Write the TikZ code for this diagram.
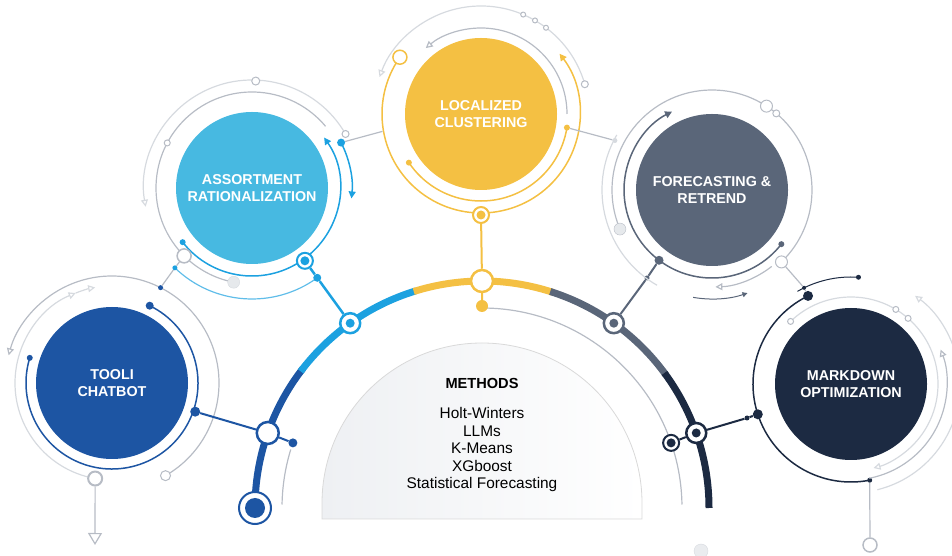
\documentclass[tikz,border=0pt]{standalone}
\usepackage{fontspec}
\setmainfont{Liberation Sans}
\usetikzlibrary{arrows.meta}

\definecolor{chatblue}{HTML}{1D55A3}
\definecolor{sortblue}{HTML}{47B9E1}
\definecolor{skyblue}{HTML}{1CA1E0}
\definecolor{clusteryellow}{HTML}{F4C043}
\definecolor{trendslate}{HTML}{5A6679}
\definecolor{marknavy}{HTML}{1C2A42}
\definecolor{ringgray}{HTML}{B7BCC5}
\definecolor{ringlight}{HTML}{D6DADF}
\definecolor{panelgray}{HTML}{EEF0F3}

\newcommand{\ringarc}[5][]{%
  \draw[#1] ([shift={(#4:#3)}]#2.center) arc[start angle=#4, end angle=#5, radius=#3];}

\tikzset{
  topic/.style={circle, fill=#1, minimum size=152pt, inner sep=0pt, text=white, align=center,
    font=\fontsize{14.3pt}{17pt}\selectfont\bfseries},
  spot/.style={circle, fill=#1, inner sep=0pt, minimum size=6pt},
  bigspot/.style={circle, fill=#1, inner sep=0pt, minimum size=10pt},
  hollow/.style={circle, fill=white, draw=#1, line width=1pt, inner sep=0pt, minimum size=12pt},
  hub/.style={circle, fill=white, draw=#1, line width=2.5pt, inner sep=0pt, minimum size=20pt},
  hubdot/.style={hub=#1, path picture={\fill[#1] (path picture bounding box.center) circle[radius=4.5pt];}},
  graywire/.style={draw=ringgray, line width=1.2pt},
  lightwire/.style={draw=ringlight, line width=1.2pt},
  opentip/.style={-{Triangle[open, length=7pt, width=7pt]}},
  solidtip/.style={-{Triangle[length=7pt, width=7pt]}},
}

\begin{document}
\begin{tikzpicture}[x=1pt, y=1pt]
\useasboundingbox (0,0) rectangle (952,556);

\coordinate (m) at (482,48);
\ringarc[line width=7pt, chatblue]{m}{227}{180}{142}
\ringarc[line width=7pt, skyblue]{m}{227}{143}{107}
\ringarc[line width=7pt, clusteryellow]{m}{227}{107.5}{72}
\ringarc[line width=7pt, trendslate]{m}{227}{72.5}{36}
\ringarc[line width=7pt, marknavy]{m}{227}{36.5}{0}
\ringarc[graywire]{m}{200}{90}{1}
\ringarc[graywire]{m}{200}{163}{179}

\draw[draw=black!15, line width=0.8pt, left color=panelgray, right color=white]
  (322,37) -- (322,53) arc[start angle=180, end angle=0, radius=160] -- (642,37) -- cycle;
\node[font=\fontsize{14.6pt}{17pt}\selectfont\bfseries] (methods) at (482,173) {METHODS};
\node[font=\fontsize{15.4pt}{17.5pt}\selectfont, align=center, anchor=north] (methodlist) at (482,152)
  {Holt-Winters\\LLMs\\K-Means\\XGboost\\Statistical Forecasting};

\node[topic=chatblue] (c1) at (112,173) {TOOLI\\CHATBOT};
\node[topic=sortblue] (c2) at (252,368) {ASSORTMENT\\RATIONALIZATION};
\node[topic=clusteryellow] (c3) at (481,442) {LOCALIZED\\CLUSTERING};
\node[topic=trendslate] (c4) at (712,366) {FORECASTING \&\\RETREND};
\node[topic=marknavy] (c5) at (851,172) {MARKDOWN\\OPTIMIZATION};

\node[hub=chatblue, minimum size=22pt] (j1) at ([shift={(160.7:227)}]m) {};
\node[hubdot=skyblue] (j2) at ([shift={(125.5:227)}]m) {};
\node[hub=clusteryellow, minimum size=22pt] (j3) at ([shift={(90:227)}]m) {};
\node[hubdot=trendslate] (j4) at ([shift={(54.5:227)}]m) {};
\node[hubdot=marknavy] (j5) at ([shift={(19.3:227)}]m) {};
\node[hub=chatblue, minimum size=32pt, line width=2pt] (jb) at ([shift={(180:227)}]m) {};
\fill[chatblue] (jb) circle[radius=10];

\ringarc[chatblue, line width=1.5pt]{c1}{86}{64}{-197}
\node[spot=chatblue, minimum size=8pt] (c1a) at ([shift={(64:86)}]c1.center) {};
\node[spot=chatblue] (c1b) at ([shift={(163:86)}]c1.center) {};
\ringarc[graywire, opentip]{c1}{107}{-60}{165}
\node[hollow=ringgray, minimum size=10pt] (c1o) at ([shift={(-60:107)}]c1.center) {};
\node[spot=chatblue, minimum size=5pt] (c1t) at ([shift={(63:107)}]c1.center) {};
\ringarc[lightwire, opentip]{c1}{97}{260}{112}
\ringarc[lightwire, opentip]{c1}{97}{112}{100}
\node[hollow=ringgray, line width=2pt, minimum size=14pt] (c1g) at ([shift={(-100:97)}]c1.center) {};
\coordinate (c1end) at (95,11);
\draw[graywire, -{Triangle[open, length=12pt, width=14pt]}] (c1g) -- (c1end);
\node[bigspot=chatblue] (d1) at ([shift={(-19:88)}]c1.center) {};
\node[spot=chatblue, minimum size=9pt] (d1b) at ([shift={(161:200)}]m) {};
\draw[chatblue, line width=2pt] (d1) -- (j1) -- (d1b);

\ringarc[skyblue, line width=1.5pt, solidtip]{c2}{88}{218}{395}
\node[spot=skyblue] (c2a) at ([shift={(218:88)}]c2.center) {};
\ringarc[skyblue, line width=1.5pt, solidtip]{c2}{100}{27}{-6}
\node[bigspot=skyblue, minimum size=8pt] (c2r) at ([shift={(27:100)}]c2.center) {};
\ringarc[skyblue!70, line width=1.2pt]{c2}{111}{226}{306}
\node[spot=skyblue, minimum size=5pt] (c2s) at ([shift={(226:111)}]c2.center) {};
\node[bigspot=skyblue, minimum size=8pt] (d2b) at ([shift={(306:111)}]c2.center) {};
\ringarc[graywire]{c2}{96}{40}{259}
\node[hollow=ringgray, minimum size=6pt] (c2k) at ([shift={(152:96)}]c2.center) {};
\node[hollow=ringgray, line width=1.5pt, minimum size=14pt] (c2o) at ([shift={(225:96)}]c2.center) {};
\node[circle, fill=ringlight!60, draw=ringlight, minimum size=12pt, inner sep=0pt] (c2e) at ([shift={(259:96)}]c2.center) {};
\ringarc[lightwire, opentip]{c2}{108}{30}{190}
\node[hollow=ringgray, minimum size=7pt] (c2p) at ([shift={(30:108)}]c2.center) {};
\node[hollow=ringgray, minimum size=8pt] (c2q) at ([shift={(88:107)}]c2.center) {};
\node[hubdot=skyblue, minimum size=16pt, line width=2pt] (d2) at ([shift={(-54:90)}]c2.center) {};
\draw[skyblue, line width=2.5pt] (d2) -- (d2b) -- (j2);
\draw[graywire] (c2o) -- (c2s) -- (c1t);

\ringarc[clusteryellow, line width=1.5pt, solidtip]{c3}{99}{145}{397.5}
\node[hollow=clusteryellow, line width=1.5pt, minimum size=14pt] (c3o) at ([shift={(145:99)}]c3.center) {};
\ringarc[clusteryellow, line width=1.5pt]{c3}{87}{214}{351}
\node[spot=clusteryellow] (c3a) at ([shift={(214:87)}]c3.center) {};
\node[spot=clusteryellow] (c3r) at ([shift={(351:87)}]c3.center) {};
\ringarc[graywire, opentip]{c3}{86}{0}{130}
\ringarc[lightwire, opentip]{c3}{108}{16}{160}
\node[hollow=ringgray, minimum size=7pt] (c3p) at ([shift={(16:108)}]c3.center) {};
\foreach \a in {53,60,67}
  \node[hollow=ringgray, minimum size=5pt] (c3d\a) at ([shift={(\a:108)}]c3.center) {};
\coordinate (c3l) at ([shift={(190:100)}]c3.center);
\draw[graywire] (c2r) -- (c3l);
\node[hubdot=clusteryellow, minimum size=16pt, line width=2pt] (d3) at ([shift={(-90:101)}]c3.center) {};
\node[bigspot=clusteryellow, minimum size=12pt] (d3b) at (482,250) {};
\draw[clusteryellow, line width=2pt] (d3) -- (j3) -- (d3b);

\ringarc[trendslate, line width=1.5pt, solidtip]{c4}{88}{-38}{-243}
\node[spot=trendslate] (c4a) at ([shift={(-38:88)}]c4.center) {};
\node[bigspot=trendslate, minimum size=9pt] (d4) at ([shift={(233:88)}]c4.center) {};
\node[spot=trendslate, minimum size=5pt] (d4b) at (647,278) {};
\draw[trendslate, line width=2pt] (d4) -- (d4b) -- (j4);
\ringarc[graywire]{c4}{100}{-46}{203}
\node[hollow=ringgray, minimum size=12pt] (c4o) at ([shift={(-46:100)}]c4.center) {};
\node[circle, fill=ringlight!60, draw=ringgray, minimum size=12pt, inner sep=0pt] (c4e) at ([shift={(203:100)}]c4.center) {};
\node[hollow=ringgray, minimum size=12pt] (c4u) at ([shift={(57:100)}]c4.center) {};
\node[hollow=ringgray, minimum size=7pt] (c4v) at ([shift={(50:100)}]c4.center) {};
\ringarc[lightwire]{c4}{110}{150}{240}
\ringarc[graywire, opentip]{c4}{97}{-52}{-88}
\ringarc[trendslate, line width=1pt, -{Triangle[length=5pt, width=5pt]}]{c4}{109}{-100}{-71}
\node[spot=ringlight, minimum size=5pt] (c4l) at ([shift={(153:109)}]c4.center) {};
\draw[graywire] (c3r) -- (c4l);

\ringarc[marknavy, line width=1.5pt]{c5}{98}{116}{281}
\node[bigspot=marknavy] (d5t) at ([shift={(116:98)}]c5.center) {};
\node[bigspot=marknavy] (d5) at ([shift={(198:98)}]c5.center) {};
\node[spot=marknavy, minimum size=5pt] (d5u) at ([shift={(281:98)}]c5.center) {};
\ringarc[marknavy, line width=1pt]{c5}{107}{86}{120}
\node[spot=marknavy, minimum size=5pt] (c5m) at ([shift={(86:107)}]c5.center) {};
\node[spot=marknavy, minimum size=4pt] (c5n) at ([shift={(116:107)}]c5.center) {};
\draw[graywire] (c4o) -- (c5n) -- (d5t);
\ringarc[lightwire, opentip]{c5}{87}{134}{-75}
\node[hollow=ringgray, minimum size=6pt] (c5k) at ([shift={(134:87)}]c5.center) {};
\node[hollow=ringgray, minimum size=6pt] (c5p) at ([shift={(59:87)}]c5.center) {};
\node[hollow=ringgray, minimum size=6pt] (c5q) at ([shift={(49:87)}]c5.center) {};
\ringarc[graywire, opentip]{c5}{96}{-79}{21}
\ringarc[lightwire, opentip]{c5}{109}{-76}{54}
\node[hollow=ringgray, line width=1.5pt, minimum size=14pt] (c5g) at (870,11) {};
\draw[graywire] (d5u) -- (c5g);
\node[spot=marknavy, minimum size=5pt] (d5b) at (747,138) {};
\node[hubdot=marknavy, minimum size=16pt, line width=2pt] (d5c) at ([shift={(19:200)}]m) {};
\draw[marknavy, line width=2pt] (d5) -- (d5b) -- (j5) -- (d5c);

\node[circle, fill=ringlight!50, draw=ringlight, minimum size=14pt] (ghost) at (701,5) {};
\end{tikzpicture}
\end{document}
